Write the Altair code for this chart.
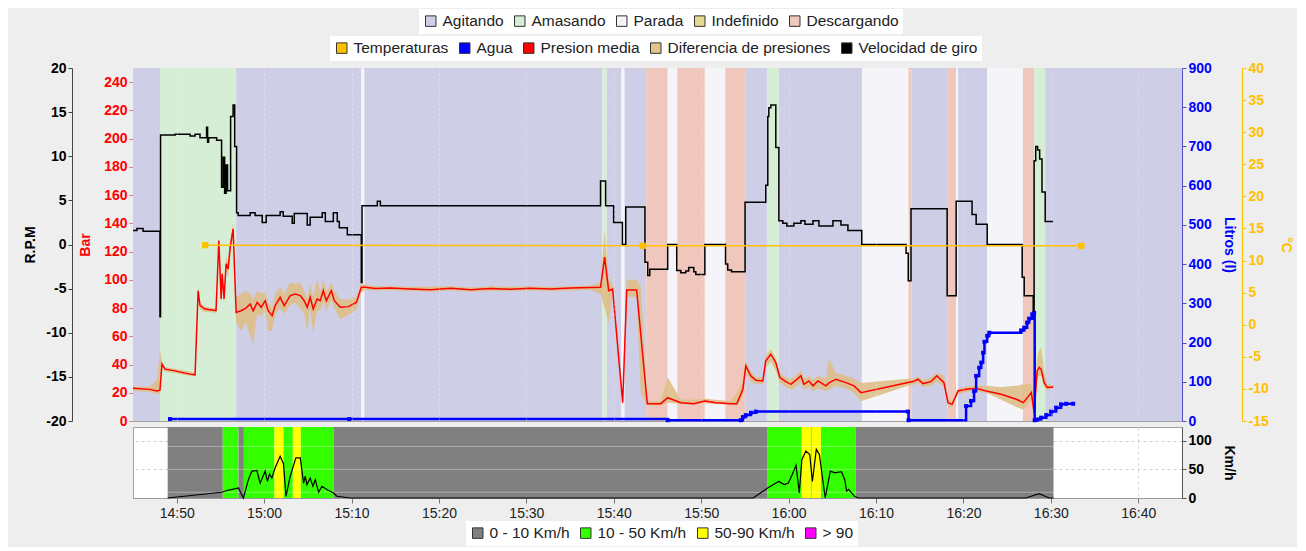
import altair as alt
import pandas as pd

DAY = "2024-01-01T"

# ---------------- data ----------------
state_names = ["Agitando", "Amasando", "Parada", "Indefinido", "Descargando"]
state_colors = ["#cecee6", "#d5eed5", "#f5f5f9", "#e3d98f", "#efc7bc"]

state_start = ["14:45:00", "14:48:05", "14:56:48", "15:11:07", "15:11:28", "15:38:41", "15:39:11",
               "15:40:52", "15:41:14", "15:43:43", "15:46:10", "15:47:16", "15:50:25", "15:52:46",
               "15:55:06", "15:57:31", "15:58:53", "16:08:23", "16:13:43", "16:14:04", "16:18:11",
               "16:19:10", "16:19:23", "16:22:43", "16:26:48", "16:28:05", "16:29:21"]
state_end = ["14:48:05", "14:56:48", "15:11:07", "15:11:28", "15:38:41", "15:39:11", "15:40:52",
             "15:41:14", "15:43:43", "15:46:10", "15:47:16", "15:50:25", "15:52:46", "15:55:06",
             "15:57:31", "15:58:53", "16:08:23", "16:13:43", "16:14:04", "16:18:11", "16:19:10",
             "16:19:23", "16:22:43", "16:26:48", "16:28:05", "16:29:21", "16:45:00"]
state_label = ["Agitando", "Amasando", "Agitando", "Parada", "Agitando", "Amasando", "Agitando",
               "Parada", "Agitando", "Descargando", "Parada", "Descargando", "Parada", "Descargando",
               "Agitando", "Amasando", "Agitando", "Parada", "Descargando", "Agitando", "Descargando",
               "Parada", "Agitando", "Parada", "Descargando", "Amasando", "Agitando"]

series_names = ["Temperaturas", "Agua", "Presion media", "Diferencia de presiones", "Velocidad de giro"]
series_colors = ["#ffc000", "#0000ff", "#ff0000", "#e2c38c", "#000000"]

rpm_time = ["14:45:00", "14:45:27", "14:46:09", "14:48:05", "14:48:09", "14:49:49", "14:51:32", "14:52:06", "14:52:40", "14:53:25",
            "14:53:32", "14:53:39", "14:54:34", "14:55:08", "14:55:19", "14:55:29", "14:55:39", "14:55:49", "14:56:10", "14:56:27",
            "14:56:38", "14:56:51", "14:57:02", "14:58:24", "14:58:58", "14:59:47", "15:00:14", "15:01:50", "15:02:11", "15:03:13",
            "15:03:27", "15:04:56", "15:05:16", "15:06:39", "15:07:00", "15:07:55", "15:08:22", "15:08:36", "15:09:31", "15:11:07",
            "15:11:12", "15:12:57", "15:13:18", "15:38:29", "15:39:04", "15:39:59", "15:40:59", "15:41:22", "15:43:34", "15:43:53",
            "15:44:07", "15:46:10", "15:47:12", "15:47:40", "15:48:14", "15:48:34", "15:49:09", "15:49:23", "15:50:25", "15:52:47",
            "15:53:02", "15:53:28", "15:55:01", "15:57:23", "15:57:37", "15:57:44", "15:57:58", "15:58:32", "15:58:53", "15:59:20",
            "15:59:48", "16:00:36", "16:01:24", "16:01:52", "16:02:47", "16:03:28", "16:05:04", "16:05:59", "16:06:47", "16:08:22",
            "16:13:26", "16:13:41", "16:14:00", "16:18:08", "16:19:10", "16:20:59", "16:21:27", "16:22:43", "16:26:43", "16:26:57",
            "16:27:59", "16:28:05", "16:28:16", "16:28:29", "16:28:43", "16:28:59", "16:29:21", "16:30:14"]
rpm_value = [1.6, 1.8, 1.5, -8.2, 12.4, 12.5, 12.3, 12.5, 12.1, 13.3,
             11.6, 12.1, 11.8, 6.5, 9.9, 5.8, 9.0, 6.1, 14.5, 15.8,
             11.1, 3.6, 3.3, 3.6, 3.3, 2.5, 3.3, 3.7, 3.2, 2.4,
             3.5, 2.2, 3.1, 3.6, 2.6, 3.6, 2.6, 1.9, 1.1, -4.3,
             4.4, 4.9, 4.4, 7.2, 4.4, 2.5, 0.0, 4.25, -2.0, -3.5,
             -2.8, 0.0, -2.95, -3.2, -3.0, -2.6, -3.1, -3.4, 0.0, -2.2,
             -2.9, -3.1, 4.8, 6.7, 14.5, 15.5, 15.8, 11.0, 2.7, 2.4,
             2.1, 2.4, 2.7, 2.3, 2.7, 2.1, 2.7, 2.2, 1.6, 0.0,
             -1.0, -4.1, 4.05, -5.8, 4.9, 3.4, 2.3, 0.0, -3.7, -5.8,
             -7.5, 9.5, 11.1, 10.7, 9.7, 5.95, 2.6, 2.6]

pres_time = ["14:45:00", "14:46:57", "14:47:45", "14:48:05", "14:48:19", "14:48:40", "14:49:49", "14:50:57", "14:51:32", "14:52:06",
             "14:52:27", "14:52:40", "14:53:15", "14:54:03", "14:54:30", "14:54:49", "14:55:05", "14:55:12", "14:55:25", "14:55:39",
             "14:55:53", "14:56:07", "14:56:27", "14:56:48", "14:57:21", "14:57:55", "14:58:24", "14:58:45", "14:59:12", "14:59:40",
             "15:00:07", "15:00:28", "15:00:55", "15:01:16", "15:01:50", "15:02:18", "15:02:59", "15:03:33", "15:04:08", "15:04:35",
             "15:04:56", "15:05:16", "15:05:37", "15:06:04", "15:06:25", "15:06:46", "15:07:07", "15:07:41", "15:08:02", "15:08:43",
             "15:09:38", "15:10:33", "15:11:07", "15:11:35", "15:12:43", "15:14:26", "15:16:44", "15:19:01", "15:21:19", "15:23:36",
             "15:25:54", "15:28:11", "15:30:28", "15:32:45", "15:35:03", "15:37:20", "15:38:29", "15:38:57", "15:39:25", "15:39:52",
             "15:41:01", "15:41:29", "15:42:37", "15:43:05", "15:43:50", "15:45:23", "15:46:10", "15:47:40", "15:49:09", "15:50:25",
             "15:51:41", "15:53:24", "15:54:05", "15:54:46", "15:55:06", "15:55:40", "15:56:15", "15:57:03", "15:57:23", "15:57:58",
             "15:58:32", "15:59:00", "15:59:41", "16:00:15", "16:00:50", "16:01:24", "16:01:45", "16:02:19", "16:02:47", "16:03:21",
             "16:04:16", "16:04:37", "16:05:25", "16:06:34", "16:07:29", "16:08:17", "16:13:40", "16:14:14", "16:14:48", "16:15:22",
             "16:16:17", "16:16:58", "16:17:46", "16:18:14", "16:18:42", "16:19:23", "16:20:18", "16:21:27", "16:22:36", "16:24:19",
             "16:26:03", "16:26:51", "16:27:46", "16:28:05", "16:28:26", "16:28:40", "16:28:53", "16:29:14", "16:29:35", "16:30:16"]
pres_mean = [23.2, 22.4, 21.3, 21.8, 40.3, 36.7, 35.5, 33.9, 33.2, 32.7,
             92.3, 81.7, 79.3, 78.6, 78.1, 127.8, 86.4, 104.2, 86.4, 111.3,
             107.7, 123.1, 136.1, 76.9, 78.1, 80.0, 82.9, 78.0, 84.0, 80.5,
             85.2, 78.1, 74.6, 81.7, 87.6, 81.7, 88.8, 90.0, 88.8, 85.2,
             80.5, 87.6, 79.3, 86.4, 85.2, 92.3, 85.2, 92.3, 85.2, 80.5,
             81.0, 84.0, 94.7, 94.7, 93.8, 94.2, 93.5, 93.0, 94.0, 93.0,
             93.8, 93.3, 94.0, 93.5, 94.2, 94.5, 94.7, 116.0, 92.3, 93.5,
             13.0, 92.8, 92.8, 61.6, 12.3, 12.3, 16.5, 13.0, 12.3, 14.2,
             13.0, 12.3, 12.3, 22.5, 39.1, 32.0, 28.9, 28.4, 42.6, 47.3,
             41.4, 30.8, 27.9, 26.0, 28.9, 32.0, 26.0, 28.4, 24.9, 28.4,
             24.9, 27.0, 29.6, 27.2, 24.9, 20.1, 27.2, 27.9, 29.6, 26.5,
             27.9, 32.0, 27.2, 13.0, 11.8, 21.3, 22.5, 23.2, 21.3, 19.0,
             15.4, 13.0, 20.1, 6.0, 35.5, 37.9, 36.7, 27.2, 23.7, 24.0]
pres_low = [21.5, 20.5, 19.5, 19.0, 38.0, 35.0, 34.0, 32.5, 32.0, 31.5,
            88.0, 79.0, 77.0, 77.0, 76.5, 120.0, 82.0, 98.0, 82.0, 106.0,
            102.0, 118.0, 130.0, 70.0, 64.0, 70.0, 60.0, 55.0, 76.0, 74.0,
            78.0, 64.0, 64.0, 75.0, 80.0, 76.0, 82.0, 84.0, 80.0, 76.0,
            63.0, 80.0, 62.0, 78.0, 78.0, 85.0, 78.0, 86.0, 80.0, 72.0,
            75.0, 79.0, 91.0, 93.0, 92.5, 92.5, 92.0, 91.5, 92.5, 91.5,
            92.0, 92.0, 92.5, 92.0, 92.5, 93.0, 90.0, 80.0, 70.0, 88.0,
            10.0, 88.0, 88.0, 20.0, 11.0, 11.0, 13.0, 12.0, 11.5, 12.5,
            12.0, 11.5, 11.0, 18.0, 34.0, 28.0, 26.0, 26.0, 38.0, 42.0,
            36.0, 27.0, 24.0, 22.0, 24.0, 27.0, 22.0, 24.0, 21.0, 23.0,
            21.0, 22.0, 25.0, 23.0, 20.0, 14.0, 25.0, 25.5, 27.0, 24.0,
            25.0, 28.0, 24.0, 10.0, 10.0, 19.0, 20.5, 21.0, 20.0, 15.0,
            10.0, 8.0, 15.0, 4.0, 30.0, 32.0, 32.0, 24.0, 22.0, 23.0]
pres_high = [24.5, 24.0, 30.0, 50.0, 42.0, 38.0, 37.0, 35.5, 35.0, 34.0,
             95.0, 84.0, 81.0, 80.0, 80.0, 129.5, 90.0, 108.0, 92.0, 116.0,
             112.0, 127.0, 140.0, 88.0, 90.0, 92.0, 90.0, 86.0, 92.0, 90.0,
             92.0, 84.0, 80.0, 90.0, 95.0, 90.0, 98.0, 97.0, 98.0, 92.0,
             86.0, 97.0, 88.0, 100.0, 92.0, 100.0, 92.0, 98.0, 92.0, 86.0,
             86.0, 88.0, 97.5, 96.5, 95.5, 95.5, 95.0, 95.0, 95.5, 94.5,
             95.5, 95.0, 95.5, 95.0, 95.5, 96.0, 98.0, 135.0, 100.0, 97.0,
             16.0, 100.0, 100.0, 95.0, 14.0, 14.0, 31.0, 15.0, 15.0, 16.0,
             15.0, 14.0, 20.0, 28.0, 42.0, 35.0, 31.0, 31.0, 46.0, 51.0,
             44.0, 34.0, 31.0, 30.0, 32.0, 36.0, 30.0, 32.0, 29.0, 32.0,
             30.0, 44.0, 34.0, 32.0, 30.0, 27.0, 30.0, 30.0, 31.5, 29.0,
             31.0, 34.0, 32.0, 16.0, 14.0, 23.0, 24.5, 25.0, 25.0, 24.0,
             25.0, 26.0, 26.0, 20.0, 45.0, 50.0, 52.0, 35.0, 26.0, 25.5]

water_time = ["14:49:14", "15:09:44", "15:46:10", "15:54:32", "15:54:46", "15:55:06", "15:55:41", "15:56:15", "16:13:38", "16:13:43",
              "16:20:18", "16:20:52", "16:21:13", "16:21:27", "16:21:48", "16:22:02", "16:22:15", "16:22:24", "16:22:43", "16:22:57",
              "16:26:36", "16:26:57", "16:27:17", "16:27:31", "16:27:52", "16:28:05", "16:28:09", "16:28:26", "16:28:53", "16:29:28",
              "16:30:02", "16:30:36", "16:31:10", "16:31:45", "16:32:33"]
water_l = [5, 5, 2, 2, 10, 15, 21, 24, 24, 2,
           38, 51, 76, 115, 136, 149, 174, 202, 217, 225,
           231, 238, 251, 261, 272, 276, 2, 4, 8.5, 15,
           24, 34, 42.5, 44, 44]

temp_time = ["14:53:15", "15:43:18", "16:33:29"]
temp_c = [12.4, 12.3, 12.3]

speed_names = ["0 - 10 Km/h", "10 - 50 Km/h", "50-90 Km/h", "> 90"]
speed_colors = ["#808080", "#33ff00", "#ffff00", "#ff00ff"]
sband_start = ["14:48:58", "14:55:16", "14:57:04", "14:57:41", "15:01:11", "15:02:13", "15:03:17", "15:04:12",
               "15:07:56", "15:57:36", "16:01:30", "16:02:33", "16:02:39", "16:03:42", "16:07:40"]
sband_end = ["14:55:16", "14:57:04", "14:57:41", "15:01:11", "15:02:13", "15:03:17", "15:04:12", "15:07:56",
             "15:57:36", "16:01:30", "16:02:33", "16:02:39", "16:03:42", "16:07:40", "16:30:18"]
sband_cat = ["0 - 10 Km/h", "10 - 50 Km/h", "0 - 10 Km/h", "10 - 50 Km/h", "50-90 Km/h", "10 - 50 Km/h",
             "50-90 Km/h", "10 - 50 Km/h", "0 - 10 Km/h", "10 - 50 Km/h", "50-90 Km/h", "10 - 50 Km/h",
             "50-90 Km/h", "10 - 50 Km/h", "0 - 10 Km/h"]
speed_thresholds = [10, 50, 90]

speed_time = ["14:48:58", "14:55:10", "14:55:44", "14:57:04", "14:57:15", "14:57:38", "14:58:12", "14:58:36", "14:59:10", "14:59:33",
              "15:00:07", "15:00:23", "15:00:37", "15:00:53", "15:01:16", "15:01:50", "15:02:13", "15:02:30", "15:02:59", "15:03:38",
              "15:04:08", "15:04:31", "15:04:42", "15:04:54", "15:05:16", "15:05:35", "15:05:51", "15:06:14", "15:06:37", "15:07:11",
              "15:07:56", "15:08:20", "15:09:52", "15:55:57", "15:57:36", "15:58:51", "15:59:31", "15:59:58", "16:00:25", "16:00:51",
              "16:01:13", "16:01:31", "16:01:58", "16:02:25", "16:02:43", "16:03:10", "16:03:31", "16:04:11", "16:04:46", "16:05:18",
              "16:06:03", "16:06:25", "16:06:38", "16:06:52", "16:07:32", "16:07:58", "16:27:07", "16:28:40", "16:29:47", "16:30:18"]
speed_kmh = [0, 10, 13, 17.5, 11.8, 0, 32, 47, 48, 26,
             47, 29, 42, 35, 53, 73, 60, 3, 38, 70,
             70, 26, 38, 23.5, 35, 20.5, 32, 10, 20.5, 14.7,
             8.8, 3, 0, 0, 17.5, 29, 23.5, 26, 41, 57,
             9, 67, 82, 76, 29, 85, 76, 0, 47, 44,
             46, 32, 12, 15, 3, 0, 0, 7.5, 0, 0]

tick_labels = ["14:50", "15:00", "15:10", "15:20", "15:30", "15:40", "15:50",
               "16:00", "16:10", "16:20", "16:30", "16:40"]

# ---------------- helpers ----------------
def iso(t):
    return DAY + t


def dtime(t):
    p = t.split(":")
    return alt.DateTime(year=2024, month=1, date=1, hours=int(p[0]), minutes=int(p[1]),
                        seconds=int(p[2]) if len(p) > 2 else 0)


X_SCALE = alt.Scale(domain=[dtime("14:45"), dtime("16:45")])
TICKS = [dtime(t) for t in tick_labels]
FONT = "Liberation Sans"
HYPHEN = "datum.value < 0 ? '-' + abs(datum.value) : '' + datum.value"

main_xaxis = alt.Axis(values=TICKS, labels=False, ticks=False, domain=False, grid=True,
                      gridColor="white", gridDash=[2, 3], gridOpacity=0.35, title=None, zindex=1)
bot_xaxis = alt.Axis(values=TICKS, format="%H:%M", labelFontSize=14, labelColor="#222",
                     tickColor="#777", tickSize=5, domainColor="#999", grid=True,
                     gridColor="#d8d8d8", gridDash=[3, 3], title=None, labelPadding=3)


def xm(field):
    return alt.X(field + ":T", scale=X_SCALE, axis=main_xaxis)


def xb(field):
    return alt.X(field + ":T", scale=X_SCALE, axis=bot_xaxis)


def yaxis(title, color, orient, offset, values, dcolor, tpad):
    return alt.Axis(title=title, orient=orient, offset=offset, values=values,
                    labelColor=color, titleColor=color, tickColor=dcolor, domainColor=dcolor,
                    labelFontWeight="bold", titleFontWeight="bold", labelFontSize=14,
                    titleFontSize=14, grid=False, tickSize=4, labelPadding=2, titlePadding=tpad,
                    labelExpr=HYPHEN)


W, H, HB = 1049, 353, 71

df_states = pd.DataFrame({"start": [iso(t) for t in state_start],
                          "end": [iso(t) for t in state_end], "state": state_label})
df_rpm = pd.DataFrame({"t": [iso(t) for t in rpm_time], "rpm": rpm_value})
df_pres = pd.DataFrame({"t": [iso(t) for t in pres_time], "mean": pres_mean,
                        "lo": pres_low, "hi": pres_high})
df_water = pd.DataFrame({"t": [iso(t) for t in water_time], "l": water_l})
df_temp = pd.DataFrame({"t": [iso(t) for t in temp_time], "c": temp_c})
df_series = pd.DataFrame({"t": [iso("14:40:00")] * len(series_names), "series": series_names})
df_sband = pd.DataFrame({"start": [iso(t) for t in sband_start],
                         "end": [iso(t) for t in sband_end], "cat": sband_cat})
df_speed = pd.DataFrame({"t": [iso(t) for t in speed_time], "v": speed_kmh})
df_thr = pd.DataFrame({"start": [iso("14:48:58")] * 3, "end": [iso("16:30:18")] * 3,
                       "v": speed_thresholds})

bar_scale = alt.Scale(domain=[0, 250], nice=False)
rpm_scale = alt.Scale(domain=[-20, 20], nice=False)
lit_scale = alt.Scale(domain=[0, 900], nice=False)
tmp_scale = alt.Scale(domain=[-15, 40], nice=False)

bands = alt.Chart(df_states).mark_rect().encode(
    x=xm("start"), x2="end:T",
    fill=alt.Fill("state:N", scale=alt.Scale(domain=state_names, range=state_colors),
                  legend=alt.Legend(orient="none", legendX=286, legendY=-59,
                                    direction="horizontal", title=None)))

area = alt.Chart(df_pres).mark_area(color="#dfbf88", opacity=0.9).encode(
    x=xm("t"), y=alt.Y("lo:Q", scale=bar_scale, axis=None), y2="hi:Q")

pres_line = alt.Chart(df_pres).mark_line(color="#ff0000", strokeWidth=1.5).encode(
    x=xm("t"),
    y=alt.Y("mean:Q", scale=bar_scale,
            axis=yaxis("Bar", "#ff0000", "left", 0, list(range(0, 241, 20)), "#d08080", 11)))

rpm_line = alt.Chart(df_rpm).mark_line(color="black", strokeWidth=1.5,
                                       interpolate="step-after").encode(
    x=xm("t"),
    y=alt.Y("rpm:Q", scale=rpm_scale,
            axis=yaxis("R.P.M", "#000000", "left", 61, list(range(-20, 21, 5)), "#444", 8)))

water_line = alt.Chart(df_water).mark_line(color="#0000ff", strokeWidth=2.5,
                                           interpolate="step-after").encode(
    x=xm("t"),
    y=alt.Y("l:Q", scale=lit_scale,
            axis=yaxis("Litros (l)", "#0000ff", "right", 0, list(range(0, 901, 100)), "#5050c0", 10)))

water_pts = alt.Chart(df_water).mark_square(color="#0000ff", size=16, opacity=1).encode(
    x=xm("t"), y=alt.Y("l:Q", scale=lit_scale, axis=None))

temp_line = alt.Chart(df_temp).mark_line(color="#ffc000", strokeWidth=1.5).encode(
    x=xm("t"),
    y=alt.Y("c:Q", scale=tmp_scale,
            axis=yaxis("°C", "#ffc000", "right", 60, list(range(-15, 41, 5)), "#ffc000", 10)))

temp_pts = alt.Chart(df_temp).mark_square(color="#ffc000", size=40, opacity=1).encode(
    x=xm("t"), y=alt.Y("c:Q", scale=tmp_scale, axis=None))

series_legend = alt.Chart(df_series).mark_square(size=30, clip=True).encode(
    x=xm("t"),
    color=alt.Color("series:N", scale=alt.Scale(domain=series_names, range=series_colors),
                    legend=alt.Legend(orient="none", legendX=197, legendY=-32,
                                      direction="horizontal", title=None)))

main = alt.layer(bands, area, pres_line, water_line, water_pts, rpm_line, temp_line,
                 temp_pts, series_legend).resolve_scale(y="independent").properties(
    width=W, height=H)

speed_scale = alt.Scale(domain=[0, 124], nice=False)
speed_axis = alt.Axis(orient="right", values=[0, 50, 100], title="Km/h", labelFontWeight="bold",
                      titleFontWeight="bold", labelFontSize=14, titleFontSize=14, labelColor="#000",
                      titleColor="#000", grid=True, gridDash=[3, 3], gridColor="#d0d0d0",
                      tickSize=4, domainColor="#555", tickColor="#555", labelPadding=2,
                      titlePadding=10)

sbands = alt.Chart(df_sband).mark_rect().encode(
    x=xb("start"), x2="end:T",
    fill=alt.Fill("cat:N", scale=alt.Scale(domain=speed_names, range=speed_colors),
                  legend=alt.Legend(orient="none", legendX=333, legendY=94,
                                    direction="horizontal", title=None)))

thr = alt.Chart(df_thr).mark_rule(color="white", opacity=0.35, strokeWidth=1).encode(
    x=xb("start"), x2="end:T", y=alt.Y("v:Q", scale=speed_scale, axis=speed_axis))

speed_line = alt.Chart(df_speed).mark_line(color="black", strokeWidth=1.2).encode(
    x=xb("t"), y=alt.Y("v:Q", scale=speed_scale, axis=speed_axis))

bottom = alt.layer(sbands, thr, speed_line).properties(width=W, height=HB)

chart = alt.VConcatChart(vconcat=[main, bottom], spacing=6, bounds="flush").resolve_scale(
    fill="independent", color="independent").properties(
    padding={"left": 15, "top": 0, "right": 4, "bottom": 0}
).configure(background="#eeeeee", font=FONT).configure_view(
    stroke="#a0a0a0", strokeWidth=1, fill="white"
).configure_axis(labelFont=FONT, titleFont=FONT).configure_legend(
    labelFont=FONT, labelFontSize=15.5, labelColor="#222", labelLimit=400, symbolType="square",
    symbolSize=110, symbolStrokeColor="#333", symbolStrokeWidth=1, symbolOpacity=1,
    fillColor="white", padding=4, columnPadding=8, labelOffset=4)

chart.save("out.html", embed_options={"renderer": "svg", "actions": False})
